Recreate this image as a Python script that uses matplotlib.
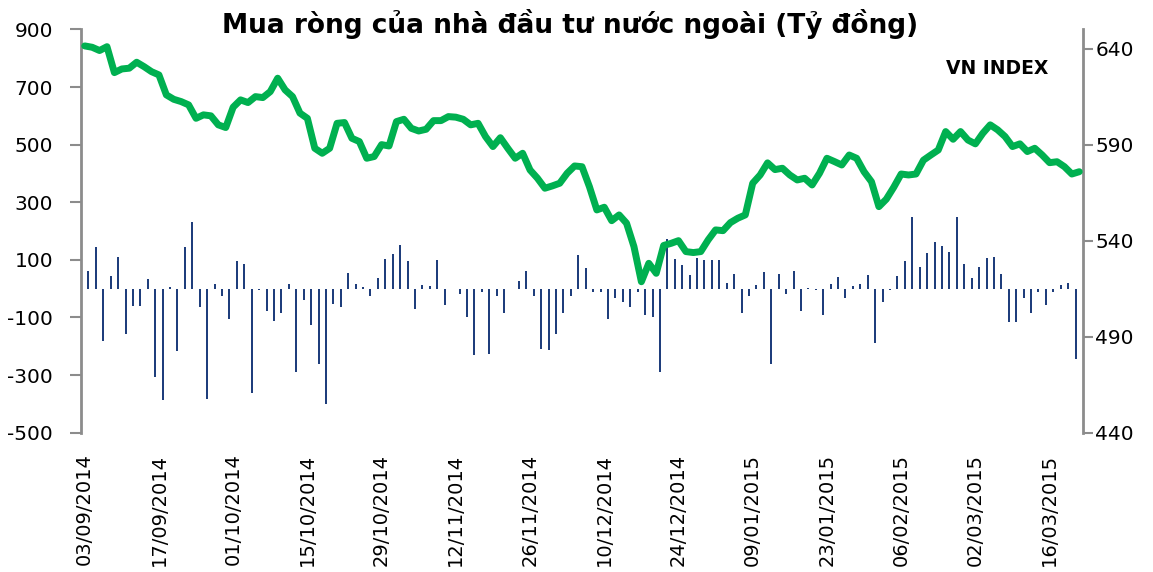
import numpy as np
import pandas as pd
import matplotlib
matplotlib.use("Agg")
import matplotlib.pyplot as plt

plt.rcParams['font.family'] = ['DejaVu Sans']
plt.rcParams['axes.unicode_minus'] = False

# ---- data ----
# trading days 03/09/2014 .. 20/03/2015 (HOSE closed on these days)
market_holidays = ['2015-01-01', '2015-01-02',
                   '2015-02-16', '2015-02-17', '2015-02-18', '2015-02-19',
                   '2015-02-20', '2015-02-23']
trading_days = pd.bdate_range('2014-09-03', '2015-03-20', freq='C',
                              holidays=market_holidays)
date_labels = [d.strftime('%d/%m/%Y') for d in trading_days]

# net foreign buying, bn VND (left axis)
net_buy = [
    60, 143, -180, 45, 111, -156, -60, -60, 34, -305,
    -385, 6, -218, 145, 230, -62, -382, 17, -24, -107,
    97, 86, -363, -3, -76, -111, -83, 17, -288, -38,
    -125, -260, -399, -52, -62, 55, 17, 5, -24, 38,
    104, 122, 152, 97, -69, 13, 10, 100, -55, -2,
    -20, -97, -229, -11, -226, -27, -86, -2, 28, 60,
    -27, -208, -213, -159, -86, -27, 118, 72, -13, -10,
    -104, -31, -48, -62, -13, -93, -97, -288, 173, 104,
    83, 48, 106, 100, 100, 100, 20, 52, -86, -27,
    13, 59, -260, 52, -20, 62, -76, 3, -3, -90,
    17, 41, -31, 10, 17, 48, -187, -45, -3, 45,
    97, 250, 76, 125, 163, 149, 128, 250, 86, 38,
    76, 107, 111, 52, -114, -114, -31, -86, -13, -55,
    -13, 13, 20, -243,
]

# VN-Index close (right axis)
vnindex = [
    641.4, 640.7, 639.0, 641.0, 627.5, 629.4, 629.8, 632.9, 630.6, 628.0,
    626.3, 615.9, 613.6, 612.4, 610.7, 603.7, 605.5, 605.0, 600.3, 598.9,
    609.5, 613.3, 611.9, 615.0, 614.5, 617.6, 624.6, 618.5, 615.0, 606.4,
    603.7, 588.1, 585.5, 588.1, 601.1, 601.5, 593.3, 591.6, 582.9, 583.8,
    590.0, 589.3, 602.0, 603.2, 598.5, 597.1, 598.0, 602.5, 602.5, 604.6,
    604.3, 603.2, 600.3, 601.1, 594.2, 589.0, 593.6, 588.1, 582.9, 585.5,
    576.8, 572.5, 567.3, 568.5, 569.9, 575.1, 578.9, 578.5, 568.1, 556.0,
    557.4, 550.4, 553.4, 549.1, 536.9, 518.6, 528.2, 523.0, 537.5, 538.6,
    540.0, 534.3, 533.8, 534.3, 540.4, 545.6, 545.2, 549.4, 551.7, 553.4,
    569.9, 574.2, 580.5, 577.0, 577.7, 574.2, 571.6, 572.5, 569.0, 575.1,
    582.9, 581.2, 579.4, 584.6, 582.9, 575.9, 570.7, 557.7, 561.6, 567.8,
    574.7, 574.2, 574.7, 581.9, 584.6, 587.2, 596.8, 592.8, 596.8, 592.4,
    590.4, 595.9, 600.3, 597.7, 594.2, 589.0, 590.4, 586.4, 588.1, 584.6,
    580.6, 581.1, 578.5, 574.7, 575.9,
]

left_ticks = list(range(-500, 901, 200))
right_ticks = list(range(440, 641, 50))

# ---- figure ----
W, H = 1153, 572
fig = plt.figure(figsize=(W / 100, H / 100), dpi=100)
ax = fig.add_axes([81 / W, 1 - 432.7 / H, (1083 - 81) / W, (432.7 - 29.4) / H])
ax2 = ax.twinx()

axis_grey = '#8C8C8C'

# columns sit half a category to the right (Excel cluster offset)
x_bar = np.arange(len(net_buy)) + 0.5
ax.bar(x_bar, net_buy, width=0.27, color='#1F3E7C', zorder=2)

ax2.plot(np.arange(len(vnindex)), vnindex, color='#00B050', lw=5,
         solid_joinstyle='round', solid_capstyle='round', zorder=3)

ax.set_xlim(-0.5, len(trading_days) - 0.5)
ax.set_ylim(-500, 900)
ax.set_yticks(left_ticks)
ax2.set_ylim(440, 650)
ax2.set_yticks(right_ticks)

ax.set_xticks(range(0, len(trading_days), 10))
ax.set_xticklabels(date_labels[::10], rotation=90, ha='center', va='top',
                   fontsize=14)
ax.tick_params(axis='x', length=0, pad=15)

ax.tick_params(axis='y', length=8, width=1.5, color=axis_grey,
               labelsize=14.5, pad=12)
ax2.tick_params(axis='y', length=7, width=1.5, color=axis_grey,
                labelsize=14.5, pad=2)

for s in ['top', 'bottom', 'right']:
    ax.spines[s].set_visible(False)
for s in ['top', 'bottom', 'left']:
    ax2.spines[s].set_visible(False)
ax.spines['left'].set_color(axis_grey)
ax.spines['left'].set_linewidth(2)
ax2.spines['right'].set_color(axis_grey)
ax2.spines['right'].set_linewidth(2)

fig.text(570 / W, 1 - 24 / H, 'Mua ròng của nhà đầu tư nước ngoài (Tỷ đồng)',
         ha='center', va='center', fontsize=19, fontweight='bold')
fig.text(997 / W, 1 - 68 / H, 'VN INDEX', ha='center', va='center',
         fontsize=13.5, fontweight='bold')

fig.savefig('out.png', dpi=100)
